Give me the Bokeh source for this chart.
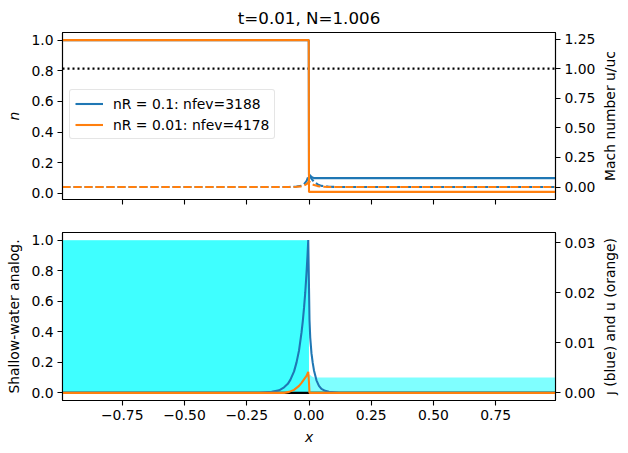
import math
from bokeh.plotting import figure
from bokeh.models import Range1d, LinearAxis, FixedTicker, Legend, LegendItem
from bokeh.core.properties import value
from bokeh.layouts import column, row
from bokeh.embed import file_html
from bokeh.resources import INLINE

# ---------------- data ----------------
title_text = "t=0.01, N=1.006"

# density n (top panel, left axis)
x_n_01 = [-0.99, -0.001, 0.0, 0.004, 0.01, 0.02, 0.99]
n_01 = [1.0, 1.0, 0.122, 0.118, 0.108, 0.1, 0.1]
x_n_001 = [-0.99, -0.001, 0.0, 0.99]
n_001 = [1.0, 1.0, 0.01, 0.01]

# Mach number (top panel, right axis, dashed)
x_mach = [-0.99, -0.08, -0.05, -0.03, -0.02, -0.01, 0.0, 0.01, 0.02, 0.035, 0.05, 0.08, 0.12, 0.99]
mach_01 = [0.0, 0.001, 0.004, 0.012, 0.025, 0.05, 0.105, 0.07, 0.045, 0.022, 0.01, 0.003, 0.0, 0.0]
mach_001 = [0.0, 0.0, 0.002, 0.006, 0.012, 0.024, 0.048, 0.03, 0.017, 0.008, 0.003, 0.001, 0.0, 0.0]
mach_ref = 1.0

legend_labels = ["nR = 0.1: nfev=3188", "nR = 0.01: nfev=4178"]
right_labels = ["Mach number u/uc", "\u0237 (blue) and u (orange)"]

# shallow-water analog (bottom panel)
x_j = [-0.99, -0.2, -0.15, -0.12, -0.1, -0.085, -0.075, -0.06, -0.05, -0.04, -0.03, -0.025,
       -0.02, -0.015, -0.01, -0.006, -0.003,
       0.0, 0.002, 0.005, 0.01, 0.015, 0.02, 0.03, 0.04, 0.05, 0.065, 0.08, 0.12, 0.99]
j_vals = [0.0, 0.00003, 0.0002, 0.0005, 0.0011, 0.0018, 0.0026, 0.0043, 0.0061, 0.0085, 0.0121,
          0.0143, 0.017, 0.0201, 0.024, 0.0275, 0.0306,
          0.021, 0.0146, 0.011, 0.0079, 0.006, 0.0045, 0.0025, 0.0014, 0.0008, 0.0004, 0.0002,
          0.0, 0.0]
x_u = [-0.99, -0.1, -0.08, -0.06, -0.04, -0.03, -0.02, -0.01, -0.003, 0.0, 0.002, 0.99]
u_vals = [0.0, 0.0, 0.0002, 0.0006, 0.0014, 0.002, 0.0027, 0.0034, 0.0042, 0.002, 0.0, 0.0]
x_zero = [-0.99, 0.99]
zero_line = [0.0, 0.0]

x_ticks = [-0.75, -0.5, -0.25, 0.0, 0.25, 0.5, 0.75]
x_tick_labels = ["\u22120.75", "\u22120.50", "\u22120.25", "0.00", "0.25", "0.50", "0.75"]
n_ticks = [0.0, 0.2, 0.4, 0.6, 0.8, 1.0]
n_tick_labels = ["0.0", "0.2", "0.4", "0.6", "0.8", "1.0"]
mach_ticks = [0.0, 0.25, 0.5, 0.75, 1.0, 1.25]
mach_tick_labels = ["0.00", "0.25", "0.50", "0.75", "1.00", "1.25"]
j_ticks = [0.0, 0.01, 0.02, 0.03]
j_tick_labels = ["0.00", "0.01", "0.02", "0.03"]

BLUE = "#1f77b4"
ORANGE = "#ff7f0e"
FONT = "DejaVu Sans"
TICK_FS = "13.9px"
LABEL_FS = "13.9px"
LW = 2.08

MAIN_W = 598
SIDE_W = 30
H1 = 216
H2 = 237

xr = Range1d(-0.99, 0.99)


def style_axis(ax, ticks, labels, label=None, italic=False):
    ax.ticker = FixedTicker(ticks=ticks)
    ax.major_label_overrides = {t: l for t, l in zip(ticks, labels)}
    ax.major_label_text_font = FONT
    ax.major_label_text_font_size = TICK_FS
    ax.major_label_text_color = "black"
    ax.major_tick_in = 0
    ax.major_tick_out = 5
    ax.major_tick_line_color = "black"
    ax.major_tick_line_width = 1.1
    ax.minor_tick_line_color = None
    ax.axis_line_color = "black"
    ax.axis_line_width = 1.1
    ax.major_label_standoff = 4
    if label is not None:
        ax.axis_label = label
        ax.axis_label_text_font = FONT
        ax.axis_label_text_font_size = LABEL_FS
        ax.axis_label_text_color = "black"
        ax.axis_label_text_font_style = "italic" if italic else "normal"
        ax.axis_label_standoff = 6


def base_fig(height, yr):
    p = figure(width=MAIN_W, height=height, x_range=xr, y_range=yr,
               output_backend="svg", toolbar_location=None)
    p.xgrid.visible = False
    p.ygrid.visible = False
    p.outline_line_color = "black"
    p.outline_line_width = 1.1
    p.outline_line_alpha = 1.0
    p.background_fill_color = "white"
    p.border_fill_color = "white"
    p.min_border_left = 62
    p.min_border_right = MAIN_W - 557
    return p


def side_fig(height, text):
    # narrow strip (frame aligned with the neighbouring panel) holding a
    # right-hand axis label that reads bottom-to-top, centred on the axis
    s = figure(width=SIDE_W, height=height, x_range=Range1d(0, SIDE_W),
               y_range=Range1d(0, 1), output_backend="svg",
               toolbar_location=None, x_axis_location=None, y_axis_location=None,
               min_border=0)
    s.xgrid.visible = False
    s.ygrid.visible = False
    s.outline_line_color = None
    s.background_fill_color = "white"
    s.border_fill_color = "white"
    s.text(x=[11], y=[0.5], text=[text], angle=math.pi / 2,
           text_align="center", text_baseline="middle",
           text_font=value(FONT), text_font_size=LABEL_FS, text_color="black")
    return s


# ---------------- top panel ----------------
p1 = base_fig(H1, Range1d(-0.0395, 1.0495))
p1.extra_y_ranges = {"mach": Range1d(-0.105, 1.305)}
p1.min_border_top = 30
p1.min_border_bottom = 17
p1.title.text = title_text
p1.title.align = "center"
p1.title.text_font = FONT
p1.title.text_font_size = "16.7px"
p1.title.text_font_style = "normal"
p1.title.text_color = "black"

style_axis(p1.xaxis[0], x_ticks, ["" for _ in x_ticks])
p1.xaxis[0].major_label_standoff = 0
style_axis(p1.yaxis[0], n_ticks, n_tick_labels, "n", italic=True)
rax1 = LinearAxis(y_range_name="mach")
style_axis(rax1, mach_ticks, mach_tick_labels)
p1.add_layout(rax1, "right")

p1.line(x_zero, [mach_ref, mach_ref], y_range_name="mach", line_color="black",
        line_width=LW, line_dash="2 3")
r_b = p1.line(x_n_01, n_01, line_color=BLUE, line_width=LW)
p1.line(x_mach, mach_01, y_range_name="mach", line_color=BLUE, line_width=LW,
        line_dash="8 3")
r_o = p1.line(x_n_001, n_001, line_color=ORANGE, line_width=LW)
p1.line(x_mach, mach_001, y_range_name="mach", line_color=ORANGE, line_width=LW,
        line_dash="8 3")

legend = Legend(items=[LegendItem(label=legend_labels[0], renderers=[r_b]),
                       LegendItem(label=legend_labels[1], renderers=[r_o])],
                location=(7, 60))
legend.label_text_font = FONT
legend.label_text_font_size = LABEL_FS
legend.label_text_color = "black"
legend.glyph_width = 28
legend.glyph_height = 17
legend.label_height = 17
legend.spacing = 4
legend.padding = 5
legend.margin = 0
legend.label_standoff = 10
legend.border_line_color = "#cccccc"
legend.border_line_width = 1
legend.background_fill_alpha = 0.8
legend.border_radius = 3
p1.add_layout(legend, "center")

s1 = side_fig(H1, right_labels[0])

# ---------------- bottom panel ----------------
p2 = base_fig(H2, Range1d(-0.05, 1.05))
p2.extra_y_ranges = {"j": Range1d(-0.00153, 0.0321)}
p2.min_border_top = 16
p2.min_border_bottom = 53

style_axis(p2.xaxis[0], x_ticks, x_tick_labels, "x", italic=True)
style_axis(p2.yaxis[0], n_ticks, n_tick_labels, "Shallow-water analog.")
rax2 = LinearAxis(y_range_name="j")
style_axis(rax2, j_ticks, j_tick_labels)
p2.add_layout(rax2, "right")

p2.varea(x=x_n_01, y1=[0.0] * len(x_n_01), y2=n_01, fill_color="cyan", fill_alpha=0.5)
p2.varea(x=x_n_001, y1=[0.0] * len(x_n_001), y2=n_001, fill_color="cyan", fill_alpha=0.5)
p2.line(x_zero, zero_line, y_range_name="j", line_color="black", line_width=LW)
p2.line(x_j, j_vals, y_range_name="j", line_color=BLUE, line_width=LW)
p2.line(x_u, u_vals, y_range_name="j", line_color=ORANGE, line_width=LW)

s2 = side_fig(H2, right_labels[1])

layout = column(row(p1, s1, spacing=0), row(p2, s2, spacing=0), spacing=0)
open("out.html", "w").write(file_html(layout, INLINE))
